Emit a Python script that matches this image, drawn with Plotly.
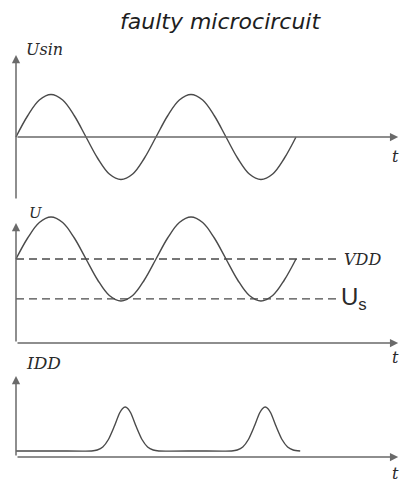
import plotly.graph_objects as go

# time in periods of the supply sine
t_sin = [i / 12 for i in range(25)]
u_sin = [0, 0.5, 0.87, 1, 0.87, 0.5, 0, -0.5, -0.87, -1, -0.87, -0.5,
         0, 0.5, 0.87, 1, 0.87, 0.5, 0, -0.5, -0.87, -1, -0.87, -0.5, 0]

# supply level and threshold of the faulty circuit
VDD = 2.0
US = 1.05
u_total = [VDD + v for v in u_sin]

# supply current pulses
t_idd = [0, 0.3, 0.54, 0.58, 0.62, 0.66, 0.70, 0.74, 0.76, 0.78, 0.80, 0.82, 0.86, 0.90, 0.94, 0.98, 1.02,
         1.3, 1.54, 1.58, 1.62, 1.66, 1.70, 1.74, 1.76, 1.78, 1.80, 1.82, 1.86, 1.90, 1.94, 1.98, 2.03]
i_dd = [0.12, 0.12, 0.12, 0.14, 0.20, 0.35, 0.60, 0.88, 0.967, 1.0, 0.967, 0.88, 0.60, 0.35, 0.20, 0.14, 0.12,
        0.12, 0.12, 0.14, 0.20, 0.35, 0.60, 0.88, 0.967, 1.0, 0.967, 0.88, 0.60, 0.35, 0.20, 0.14, 0.12]

T_AXIS = 2.73

CURVE = "#4a4a4a"
AXIS = "#6a6a6a"
TEXT = "#2a2a2a"

fig = go.Figure()
fig.add_trace(go.Scatter(x=t_sin, y=u_sin, mode="lines", yaxis="y",
                         line=dict(color=CURVE, width=1.4, shape="spline", smoothing=1)))
fig.add_trace(go.Scatter(x=t_sin, y=u_total, mode="lines", yaxis="y2",
                         line=dict(color=CURVE, width=1.4, shape="spline", smoothing=1)))
fig.add_trace(go.Scatter(x=[0, 2.3], y=[VDD, VDD], mode="lines", yaxis="y2",
                         line=dict(color=CURVE, width=1.3, dash="8px,5px")))
fig.add_trace(go.Scatter(x=[0, 2.3], y=[US, US], mode="lines", yaxis="y2",
                         line=dict(color=CURVE, width=1.3, dash="8px,5px")))
fig.add_trace(go.Scatter(x=t_idd, y=i_dd, mode="lines", yaxis="y3",
                         line=dict(color=CURVE, width=1.4, shape="spline", smoothing=0.6)))


def arrow(yref, x, y, ax, ay):
    return dict(x=x, y=y, ax=ax, ay=ay, xref="x", yref=yref, axref="x", ayref=yref,
                text="", showarrow=True, arrowhead=2, arrowsize=1.1, arrowwidth=1.5,
                arrowcolor=AXIS, standoff=0, startstandoff=0)


def label(yref, x, y, text, size=16, family="DejaVu Serif", xanchor="left"):
    return dict(x=x, y=y, xref="x", yref=yref, text=text, showarrow=False,
                xanchor=xanchor, yanchor="middle",
                font=dict(family=family, size=size, color=TEXT))


annotations = [
    # top panel
    arrow("y", 0, 1.93, 0, -1.48),
    arrow("y", T_AXIS, 0, 0, 0),
    label("y", 0.06, 2.05, "<i>Usin</i>"),
    label("y", 2.67, -0.47, "<i>t</i>"),
    # middle panel
    arrow("y2", 0, 2.86, 0, 0),
    arrow("y2", T_AXIS, 0, 0, 0),
    label("y2", 0.075, 3.1, "<i>U</i>", size=15),
    label("y2", 2.33, 1.98, "<i>VDD</i>"),
    label("y2", 2.31, 1.05, "U<sub>s</sub>", size=24, family="Liberation Sans"),
    label("y2", 2.67, -0.35, "<i>t</i>"),
    # bottom panel
    arrow("y3", 0, 1.62, 0, 0),
    arrow("y3", T_AXIS, 0, 0, 0),
    label("y3", 0.06, 1.88, "<i>IDD</i>", size=17),
    label("y3", 2.67, -0.33, "<i>t</i>"),
    # title
    dict(x=0.549, y=1 - 21 / 484, xref="paper", yref="paper", text="<i>faulty microcircuit</i>",
         showarrow=False, xanchor="center", yanchor="middle",
         font=dict(family="DejaVu Sans", size=22, color="#1e1e1e")),
]

hidden = dict(visible=False, showgrid=False, zeroline=False, fixedrange=True)
H = 484.0


def dom(top_px, bottom_px):
    return [1 - bottom_px / H, 1 - top_px / H]


fig.update_layout(
    width=401, height=484,
    margin=dict(l=0, r=0, t=0, b=0),
    paper_bgcolor="white", plot_bgcolor="white",
    showlegend=False,
    xaxis=dict(range=[-16 / 140, 385 / 140], **hidden),
    yaxis=dict(domain=dom(30, 205), range=[(137 - 205) / 42.5, (137 - 30) / 42.5], anchor="x", **hidden),
    yaxis2=dict(domain=dom(200, 368), range=[(343 - 368) / 42, (343 - 200) / 42], anchor="x", **hidden),
    yaxis3=dict(domain=dom(345, 484), range=[(457 - 484) / 50, (457 - 345) / 50], anchor="x", **hidden),
    annotations=annotations,
)

fig.write_html("out.html")
